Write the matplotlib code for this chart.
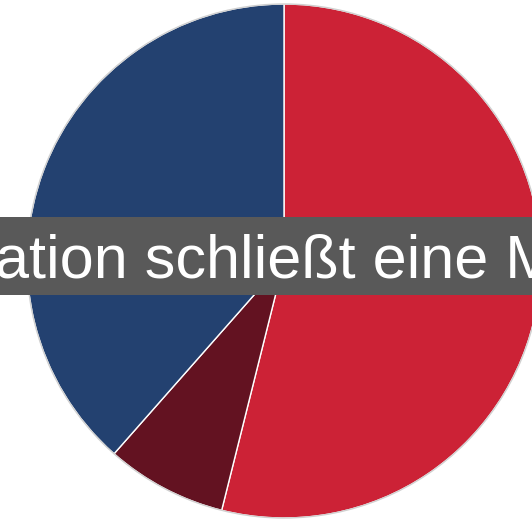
import matplotlib.pyplot as plt
from matplotlib.patches import Rectangle, Circle

# shares, clockwise from 12 o'clock
labels = ['rot', 'dunkelrot', 'blau']
shares = [53.9, 7.6, 38.5]
colors = ['#cc2236', '#631221', '#234170']
caption = 'ation schließt eine M'

fig = plt.figure(figsize=(5.32, 5.20), dpi=100)
ax = fig.add_axes([0, 0, 1, 1])

cx, cy, r = 284, 259, 257
ax.pie(shares, colors=colors, startangle=90, counterclock=False,
       center=(cx, cy), radius=r, frame=True,
       wedgeprops=dict(edgecolor='white', linewidth=1))
ax.add_patch(Circle((cx, cy), r, fill=False, edgecolor='#d0d0d0', linewidth=1))
ax.set_xlim(0, 532)
ax.set_ylim(0, 520)
ax.set_aspect('auto')
ax.axis('off')

ax.add_patch(Rectangle((0, 225), 532, 78, facecolor='#595959', edgecolor='none', zorder=5))
ax.text(-5, 242, caption, color='white', fontsize=44, va='baseline', ha='left',
        family=['Liberation Sans', 'DejaVu Sans'], zorder=6)

fig.savefig('out.png', dpi=100)
